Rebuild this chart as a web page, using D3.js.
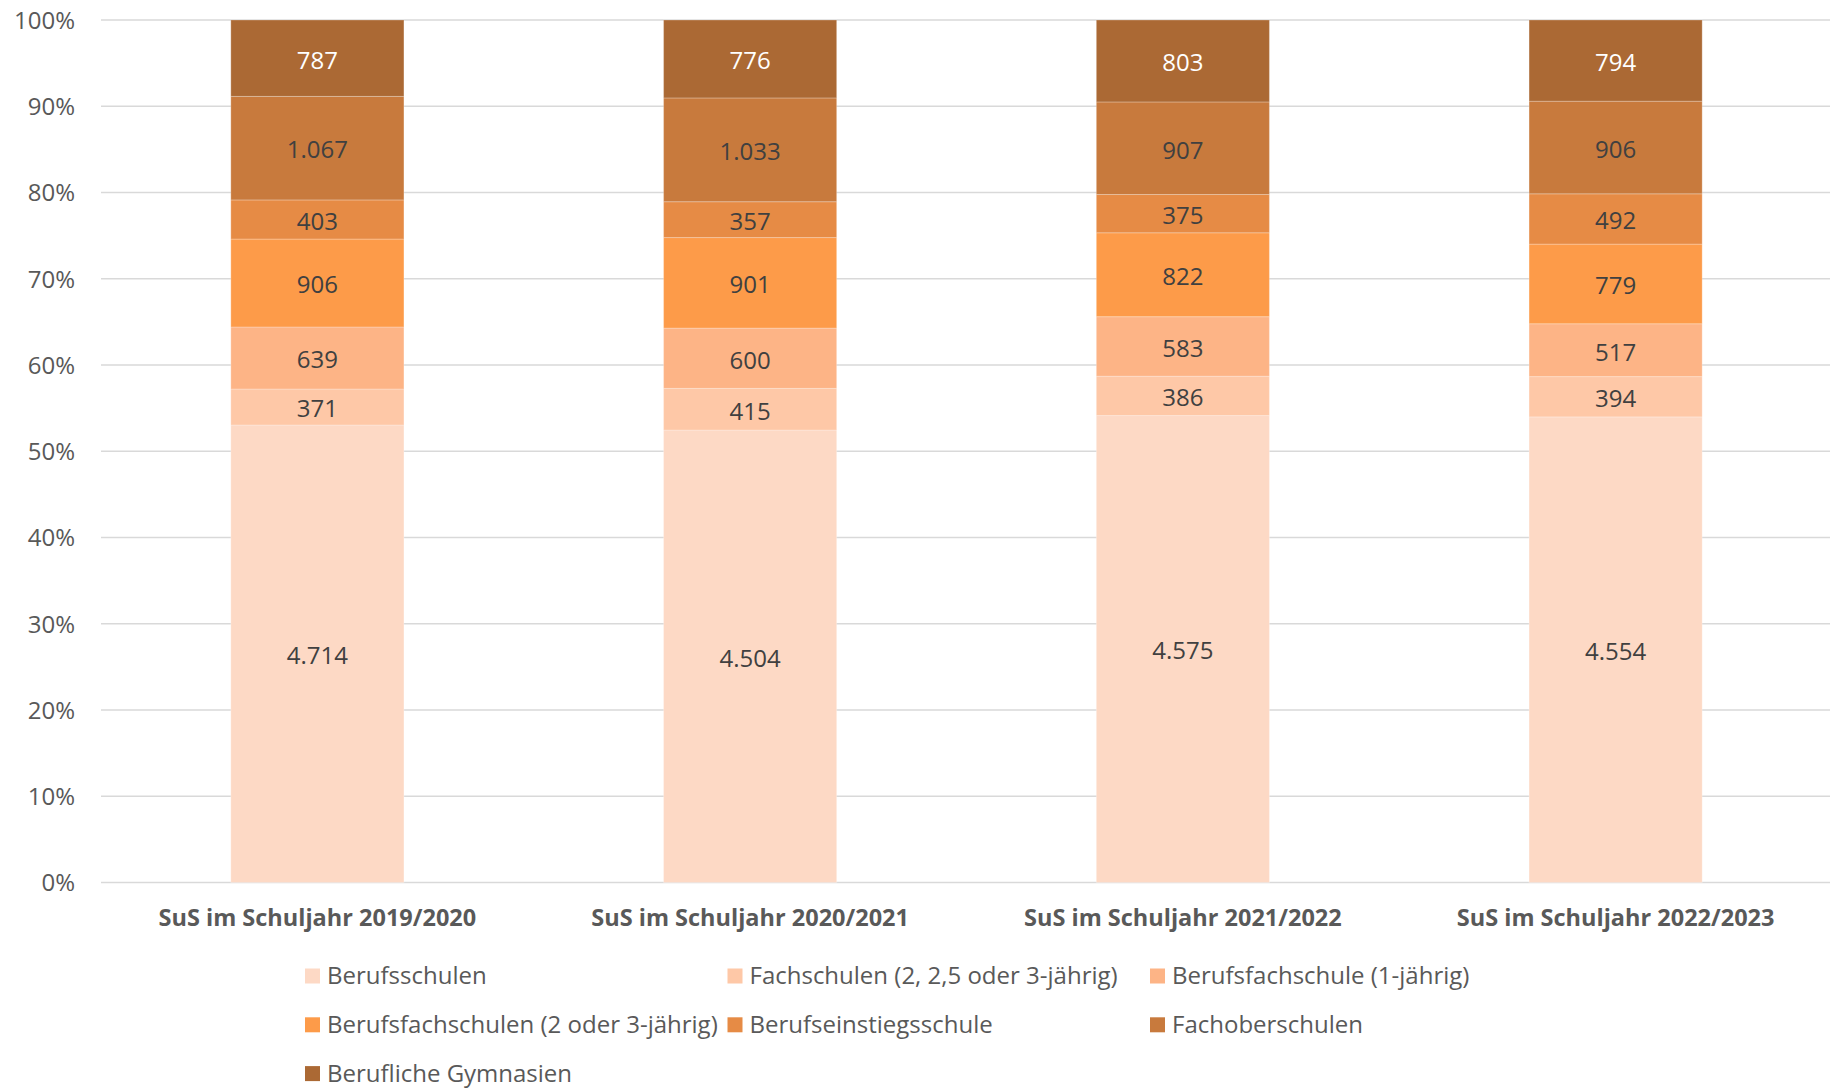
<!DOCTYPE html>
<html>
<head>
<meta charset="utf-8">
<script src="https://cdn.jsdelivr.net/npm/d3@7"></script>
<style>
  html, body { margin: 0; padding: 0; background: #fff; }
  svg { display: block; font-family: "Open Sans", sans-serif; }
</style>
</head>
<body>
<svg id="chart" width="1830" height="1088"></svg>
<script>
const categories = ["SuS im Schuljahr 2019/2020", "SuS im Schuljahr 2020/2021", "SuS im Schuljahr 2021/2022", "SuS im Schuljahr 2022/2023"];
const seriesNames = ["Berufsschulen", "Fachschulen (2, 2,5 oder 3-jährig)", "Berufsfachschule (1-jährig)", "Berufsfachschulen (2 oder 3-jährig)", "Berufseinstiegsschule", "Fachoberschulen", "Berufliche Gymnasien"];
const berufsschulen = [4714, 4504, 4575, 4554];
const fachschulen = [371, 415, 386, 394];
const berufsfachschule1 = [639, 600, 583, 517];
const berufsfachschulen23 = [906, 901, 822, 779];
const berufseinstieg = [403, 357, 375, 492];
const fachoberschulen = [1067, 1033, 907, 906];
const gymnasien = [787, 776, 803, 794];
const seriesColors = ["#FDD9C5", "#FEC8A7", "#FDB486", "#FD9B49", "#E68B45", "#C87A3D", "#AB6934"];
const labelColors = ["#404040", "#404040", "#404040", "#404040", "#404040", "#404040", "#FFFFFF"];
const yTicks = [0, 0.1, 0.2, 0.3, 0.4, 0.5, 0.6, 0.7, 0.8, 0.9, 1.0];

const seriesValues = [berufsschulen, fachschulen, berufsfachschule1, berufsfachschulen23, berufseinstieg, fachoberschulen, gymnasien];
const table = categories.map((c, i) => {
  const row = { cat: c };
  seriesNames.forEach((s, j) => row[s] = seriesValues[j][i]);
  return row;
});

const svg = d3.select("#chart");
const x = d3.scaleBand().domain(categories).range([101, 1832]).padding(0);
const y = d3.scaleLinear().domain([0, 1]).range([882.5, 20]);
const barW = x.bandwidth() * 0.4;

const de = d3.formatLocale({ decimal: ",", thousands: ".", grouping: [3], currency: ["", " €"] });
const fmt = de.format(",d");
const pct = d3.format(".0%");

// gridlines
svg.append("g").selectAll("line").data(yTicks).join("line")
  .attr("x1", 101).attr("x2", 1830)
  .attr("y1", d => y(d)).attr("y2", d => y(d))
  .attr("stroke", "#D9D9D9").attr("stroke-width", 1.5);

// y axis labels
const yAxis = d3.axisLeft(y).tickValues(yTicks).tickFormat(pct).tickSize(0).tickPadding(0);
const yg = svg.append("g").attr("transform", "translate(75,0)").call(yAxis);
yg.select(".domain").remove();
yg.selectAll("text").attr("font-size", 24).attr("fill", "#595959").attr("font-family", "Open Sans").attr("dy", "0.35em");

const stack = d3.stack().keys(seriesNames).offset(d3.stackOffsetExpand);
const stacked = stack(table);

const groups = svg.append("g").selectAll("g").data(stacked).join("g")
  .attr("fill", (d, i) => seriesColors[i]);
groups.selectAll("rect").data(d => d).join("rect")
  .attr("x", d => x(d.data.cat) + (x.bandwidth() - barW) / 2)
  .attr("width", barW)
  .attr("y", d => y(d[1]))
  .attr("height", d => y(d[0]) - y(d[1]))
  .attr("stroke", "#ffffff").attr("stroke-opacity", 0.25).attr("stroke-width", 1);

// data labels
stacked.forEach((s, i) => {
  svg.append("g").selectAll("text").data(s).join("text")
    .attr("x", d => x(d.data.cat) + x.bandwidth() / 2)
    .attr("y", d => (y(d[0]) + y(d[1])) / 2)
    .attr("dy", "0.43em")
    .attr("text-anchor", "middle")
    .attr("font-size", 24)
    .attr("fill", labelColors[i])
    .text(d => fmt(d.data[s.key]));
});

// x axis labels
const xAxis = d3.axisBottom(x).tickSize(0).tickPadding(0);
const xg = svg.append("g").attr("transform", "translate(0,918)").call(xAxis);
xg.select(".domain").remove();
xg.selectAll("text").attr("font-size", 23.5).attr("font-weight", "bold").attr("fill", "#595959")
  .attr("font-family", "Open Sans").attr("dy", "0.35em");

// legend
const legend = svg.append("g");
seriesNames.forEach((name, i) => {
  const col = i % 3, row = Math.floor(i / 3);
  const lx = 305 + col * 422.5, ly = 976 + row * 48.8;
  legend.append("rect").attr("x", lx).attr("y", ly - 7.5).attr("width", 15).attr("height", 15).attr("fill", seriesColors[i]);
  legend.append("text").attr("x", lx + 22).attr("y", ly).attr("dy", "0.35em")
    .attr("font-size", 24).attr("fill", "#595959").text(name);
});
</script>
</body>
</html>
